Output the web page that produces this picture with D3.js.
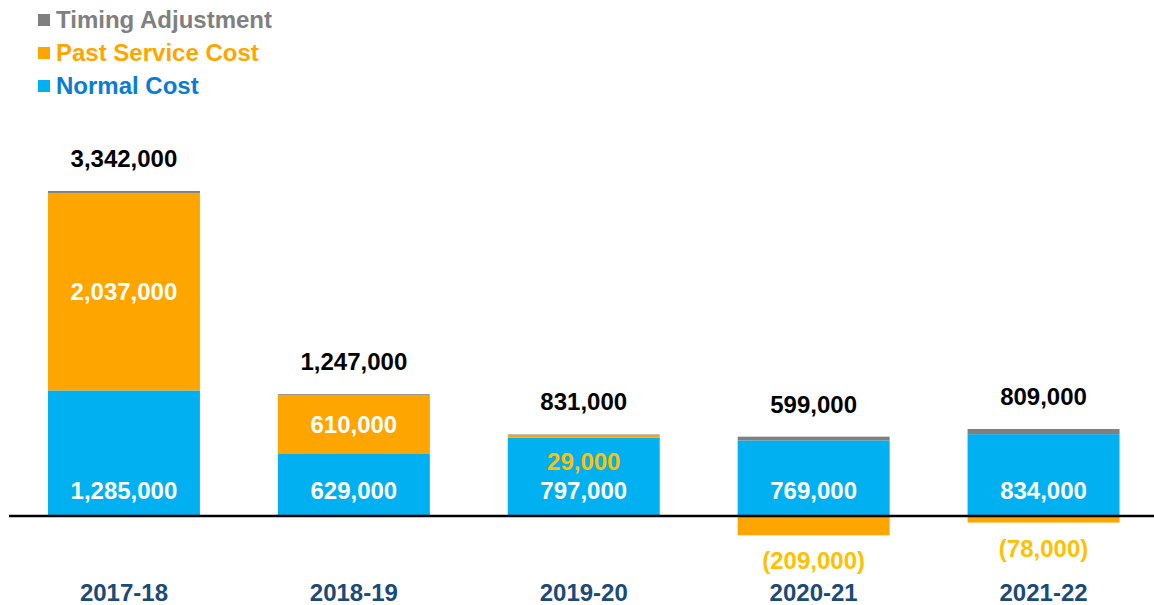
<!DOCTYPE html>
<html><head><meta charset="utf-8">
<script src="https://cdn.jsdelivr.net/npm/d3@7"></script>
<style>
html,body{margin:0;padding:0;background:#fff;}
svg{display:block;font-family:"Liberation Sans",Arial,Helvetica,sans-serif;font-weight:bold;}
</style></head>
<body>
<svg id="chart" width="1154" height="605"></svg>
<script>
const categories = ["2017-18","2018-19","2019-20","2020-21","2021-22"];
const normalCost = [1285000, 629000, 797000, 769000, 834000];
const pastServiceCost = [2037000, 610000, 29000, -209000, -78000];
const timingAdjustment = [20000, 8000, 5000, 39000, 53000];
const totals = [3342000, 1247000, 831000, 599000, 809000];
const seriesNames = ["Normal Cost", "Past Service Cost", "Timing Adjustment"];

const colors = {"Normal Cost":"#00B0F0","Past Service Cost":"#FFA500","Timing Adjustment":"#808080"};
const legendText = {"Normal Cost":"#0A7CD6","Past Service Cost":"#FFA500","Timing Adjustment":"#808080"};
const gold = "#FFC000";
const catColor = "#1B4A78";

const rows = categories.map((c,i)=>({cat:c,"Normal Cost":normalCost[i],"Past Service Cost":pastServiceCost[i],"Timing Adjustment":timingAdjustment[i],total:totals[i]}));

const svg = d3.select("#chart");
const x = d3.scaleBand().domain(categories).range([9,1158.5]).paddingInner(0.339).paddingOuter(0.1695);
const y = d3.scaleLinear().domain([0,3342000]).range([515,191]);

const stack = d3.stack().keys(seriesNames).offset(d3.stackOffsetDiverging);
const series = stack(rows);

const fmt = d3.format(",");

const g = svg.append("g");
series.forEach(s=>{
  g.selectAll(null).data(s).enter().append("rect")
    .attr("x", d=>x(d.data.cat))
    .attr("width", x.bandwidth())
    .attr("y", d=>y(Math.max(d[0],d[1])))
    .attr("height", d=>Math.abs(y(d[0])-y(d[1])))
    .attr("fill", colors[s.key]);
});

// axis line
svg.append("line").attr("x1",9).attr("x2",1154).attr("y1",y(0)+1).attr("y2",y(0)+1)
  .attr("stroke","#000").attr("stroke-width",2.6);

// category labels
const xAxis = d3.axisBottom(x).tickSize(0).tickPadding(0);
const ax = svg.append("g").attr("transform","translate(0,585)").call(xAxis);
ax.select(".domain").remove();
ax.selectAll("text").attr("fill",catColor).attr("font-size",24).attr("font-family","Liberation Sans, Arial, sans-serif").attr("font-weight","bold").attr("dy","0.67em");

const fs = 24;
// normal cost labels
const normalS = series[0];
svg.selectAll(null).data(normalS).enter().append("text")
  .attr("x", d=>x(d.data.cat)+x.bandwidth()/2)
  .attr("y", d=>y(0)-16)
  .attr("text-anchor","middle").attr("font-size",fs).attr("fill","#fff")
  .text(d=>fmt(d.data["Normal Cost"]));

// past service labels
const pastS = series[1];
svg.selectAll(null).data(pastS).enter().append("text")
  .attr("x", d=>x(d.data.cat)+x.bandwidth()/2)
  .attr("y", d=>{
    const v = d.data["Past Service Cost"];
    const h = Math.abs(y(d[0])-y(d[1]));
    if (v < 0) return y(d[0]) + 34;
    if (h > 40) return (y(d[0])+y(d[1]))/2 + 8.5;
    return y(d[0]) + 32;
  })
  .attr("text-anchor","middle").attr("font-size",fs)
  .attr("fill", d=>{
    const v = d.data["Past Service Cost"];
    const h = Math.abs(y(d[0])-y(d[1]));
    return (v<0 || h<=40) ? gold : "#fff";
  })
  .text(d=>{const v=d.data["Past Service Cost"]; return v<0?"("+fmt(-v)+")":fmt(v);});

// totals
svg.selectAll(null).data(rows).enter().append("text")
  .attr("x", d=>x(d.cat)+x.bandwidth()/2)
  .attr("y", (d,i)=>{
    const top = d3.max(series, s=>s[i][1]);
    return y(top) - 24;
  })
  .attr("text-anchor","middle").attr("font-size",fs).attr("fill","#000")
  .text(d=>fmt(d.total));

// legend
const legendOrder = ["Timing Adjustment","Past Service Cost","Normal Cost"];
const lg = svg.append("g");
legendOrder.forEach((k,i)=>{
  const by = 28 + i*33;
  lg.append("rect").attr("x",38).attr("y",by-14).attr("width",12).attr("height",12).attr("fill",colors[k]);
  lg.append("text").attr("x",56).attr("y",by).attr("font-size",24).attr("fill",legendText[k]).text(k);
});
</script>
</body></html>
